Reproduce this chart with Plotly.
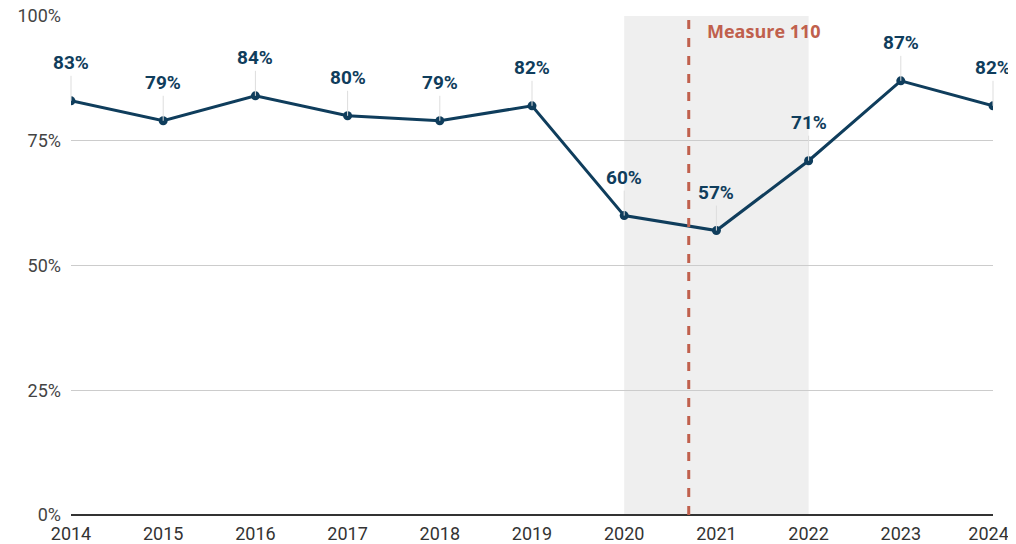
import plotly.graph_objects as go

years = [2014, 2015, 2016, 2017, 2018, 2019, 2020, 2021, 2022, 2023, 2024]
values = [83, 79, 84, 80, 79, 82, 60, 57, 71, 87, 82]
labels = [f"{v}%" for v in values]
y_ticks = [0, 25, 50, 75, 100]
y_tick_labels = ["0%", "25%", "50%", "75%", "100%"]
shade_start, shade_end = 2020, 2022
measure_x = 2020.7
measure_label = "Measure 110"

NAVY = "#0f3d5c"
RED = "#c0604d"

# pad the last year label a little so it is not clipped at the right page edge
x_tick_text = [str(y) for y in years]
x_tick_text[-1] = x_tick_text[-1] + "\u00a0\u00a0"

fig = go.Figure()
fig.add_trace(go.Scatter(
    x=years, y=values, mode="lines+markers",
    line=dict(color=NAVY, width=3),
    marker=dict(color=NAVY, size=9),
    hoverinfo="skip", cliponaxis=True,
))

for x, v, t in zip(years, values, labels):
    fig.add_annotation(
        x=x, y=v, text=t, showarrow=True, arrowhead=0, arrowwidth=1,
        arrowcolor="#dddddd", ax=0, ay=-38, standoff=0,
        font=dict(family="Roboto", size=19, color=NAVY, weight="bold"),
    )

fig.add_shape(type="rect", x0=shade_start, x1=shade_end, y0=0, y1=100,
              xref="x", yref="y", fillcolor="#efefef", line_width=0, layer="below")
fig.add_shape(type="line", x0=measure_x, x1=measure_x, y0=0, y1=100,
              xref="x", yref="y", line=dict(color=RED, width=3, dash="dash"))
fig.add_annotation(x=measure_x, y=100, xref="x", yref="y", text=measure_label,
                   showarrow=False, xanchor="left", yanchor="top", xshift=16, yshift=-1,
                   font=dict(family="Open Sans", size=18, color=RED, weight="bold"))

# page body has an 8px margin; size the figure so the plot area lands where the reference's does
fig.update_layout(
    width=1008, height=536,
    margin=dict(l=63, r=23, t=8, b=29),
    paper_bgcolor="white", plot_bgcolor="white",
    showlegend=False,
    font=dict(family="Roboto", size=18, color="#444444"),
    xaxis=dict(range=[2014, 2024], tickvals=years, ticktext=x_tick_text,
               showgrid=False, zeroline=False, showline=False, ticks="",
               automargin=False, ticklabelstandoff=6, ticklabeloverflow="allow",
               tickfont=dict(size=18, color="#333333")),
    yaxis=dict(range=[0, 100], tickvals=y_ticks, ticktext=y_tick_labels,
               showgrid=True, gridcolor="#cccccc", gridwidth=1,
               zeroline=True, zerolinecolor="#333333", zerolinewidth=2,
               ticks="", ticklabelstandoff=9, automargin=False, ticklabeloverflow="allow",
               tickfont=dict(size=18, color="#444444")),
)

fig.write_html("out.html")
